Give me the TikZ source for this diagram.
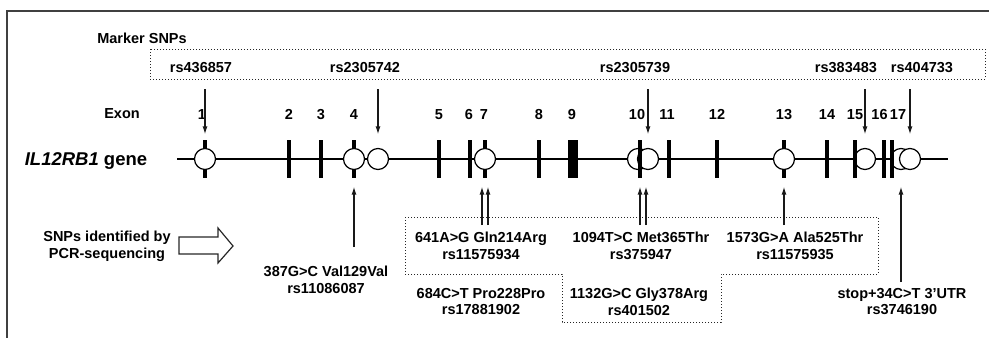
\documentclass[tikz,border=0pt]{standalone}
\usepackage{fontspec}
\setmainfont{Liberation Sans}
\usetikzlibrary{arrows.meta}
\begin{document}
\begin{tikzpicture}[x=1pt,y=-1pt,
  lbl/.style={font=\fontsize{14.5}{16.5}\selectfont\bfseries, inner sep=0pt, anchor=north, align=center},
  exbar/.style={fill=black, inner sep=0pt, minimum width=4pt, minimum height=38pt},
  snp/.style={circle, draw=black, fill=white, line width=1.2pt, minimum size=21pt, inner sep=0pt},
  arr/.style={line width=1.3pt, draw=black!90, -{Latex[length=8pt,width=5pt]}},
  dots/.style={line width=1pt, draw=black!85, dash pattern=on 1pt off 2pt},
  frameline/.style={line width=1.2pt, draw=black!75},
  geneline/.style={line width=1.2pt, draw=black}]
\useasboundingbox (0,0) rectangle (989,338);
% frame
\coordinate (fr1) at (989,11);
\coordinate (fr2) at (7,11);
\coordinate (fr3) at (7,338);
\draw[frameline] (fr1) -- (fr2) -- (fr3);

% marker SNP box
\node[lbl] (marker) at (142,33) {Marker SNPs};
\draw[dots] (150,49) rectangle (985,79);
\node[lbl] (m1) at (201,62) {rs436857};
\node[lbl] (m2) at (365,62) {rs2305742};
\node[lbl] (m3) at (635,62) {rs2305739};
\node[lbl] (m4) at (846,62) {rs383483};
\node[lbl] (m5) at (922,62) {rs404733};

% exon labels
\node[lbl] (exon) at (122,108) {Exon};
\foreach \n/\x in {1/202,2/289,3/321,4/354,5/439,6/469,7/484,8/539,9/572,10/637,11/667,12/717,13/784,14/827,15/855,16/879.5,17/898}
  \node[lbl] (x\n) at (\x,109) {\n};

% gene
\node[lbl, font=\fontsize{18.5}{20}\selectfont\bfseries] (gene) at (86,152) {\textit{IL12RB1} gene};
\coordinate (gs) at (177,159);
\coordinate (ge) at (948,159);
\draw[geneline] (gs) -- (ge);

% exon bars (under circles)
\foreach \n/\x in {1/205,2/289,3/321,4/354,5/439,6/470,7/485,8/539,11/669,12/717,13/784,14/827,16/884}
  \node[exbar] (e\n) at (\x,159) {};
\node[exbar, minimum width=10pt] (e9) at (573,159) {};

% circles
\node[snp] (c1) at (205,159) {};
\node[snp] (c4) at (354,159) {};
\node[snp] (cx) at (378,159) {};
\node[snp] (c7) at (485,159) {};
\node[snp] (c10a) at (638,159) {};
\node[snp] (c10b) at (648,159) {};
\node[snp] (c13) at (784,159) {};
\node[snp] (c15) at (865,159) {};
\node[snp] (c17a) at (901,159) {};
\node[snp] (c17b) at (910,159) {};
% bars over circles
\node[exbar] (e10) at (640,159) {};
\node[exbar] (e15) at (855,159) {};
\node[exbar] (e17) at (892,159) {};

% marker arrows
\coordinate (d1) at (205,89);
\coordinate (d2) at (378,89);
\coordinate (d3) at (648,89);
\coordinate (d4) at (865,89);
\coordinate (d5) at (910,89);
\draw[arr, shorten >=13.5pt] (d1) -- (c1.north);
\draw[arr, shorten >=13.5pt] (d2) -- (cx.north);
\draw[arr, shorten >=13.5pt] (d3) -- (c10b.north);
\draw[arr, shorten >=13.5pt] (d4) -- (c15.north);
\draw[arr, shorten >=13.5pt] (d5) -- (c17b.north);

% SNPs identified by PCR
\node[lbl] (pcr) at (107,231) {SNPs identified by\\PCR-sequencing};
\draw[line width=1.2pt, draw=black!85] (179,237) -- (218,237) -- (218,228) -- (233,246) -- (218,263) -- (218,254) -- (179,254) -- cycle;

% lower dotted box
\draw[dots] (405,217) -- (878,217) -- (878,274) -- (721,274) -- (721,322) -- (562,322) -- (562,274) -- (405,274) -- cycle;

% lower labels
\node[lbl] (s4) at (326,266) {387G>C Val129Val\\rs11086087};
\node[lbl] (s7a) at (481,232) {641A>G Gln214Arg\\rs11575934};
\node[lbl] (s7b) at (481,288) {684C>T Pro228Pro\\rs17881902};
\node[lbl] (s10a) at (641,232) {1094T>C Met365Thr\\rs375947};
\node[lbl] (s10b) at (639,288) {1132G>C Gly378Arg\\rs401502};
\node[lbl] (s13) at (795,232) {1573G>A Ala525Thr\\rs11575935};
\node[lbl] (s17) at (902,288) {stop+34C>T 3'UTR\\rs3746190};

% up arrows
\coordinate (u4) at (354,247);
\coordinate (u7a) at (482,225);
\coordinate (u7b) at (488,225);
\coordinate (u10a) at (640,225);
\coordinate (u10b) at (646,225);
\coordinate (u13) at (784,225);
\coordinate (u17) at (901,282);
\draw[arr, shorten >=16.5pt] (u4) -- (c4.south);
\draw[arr, shorten >=16.5pt] (u7a) -- (u7a |- c7.south);
\draw[arr, shorten >=16.5pt] (u7b) -- (u7b |- c7.south);
\draw[arr, shorten >=16.5pt] (u10a) -- (u10a |- c10a.south);
\draw[arr, shorten >=16.5pt] (u10b) -- (u10b |- c10b.south);
\draw[arr, shorten >=16.5pt] (u13) -- (c13.south);
\draw[arr, shorten >=16.5pt] (u17) -- (c17a.south);
\end{tikzpicture}
\end{document}
